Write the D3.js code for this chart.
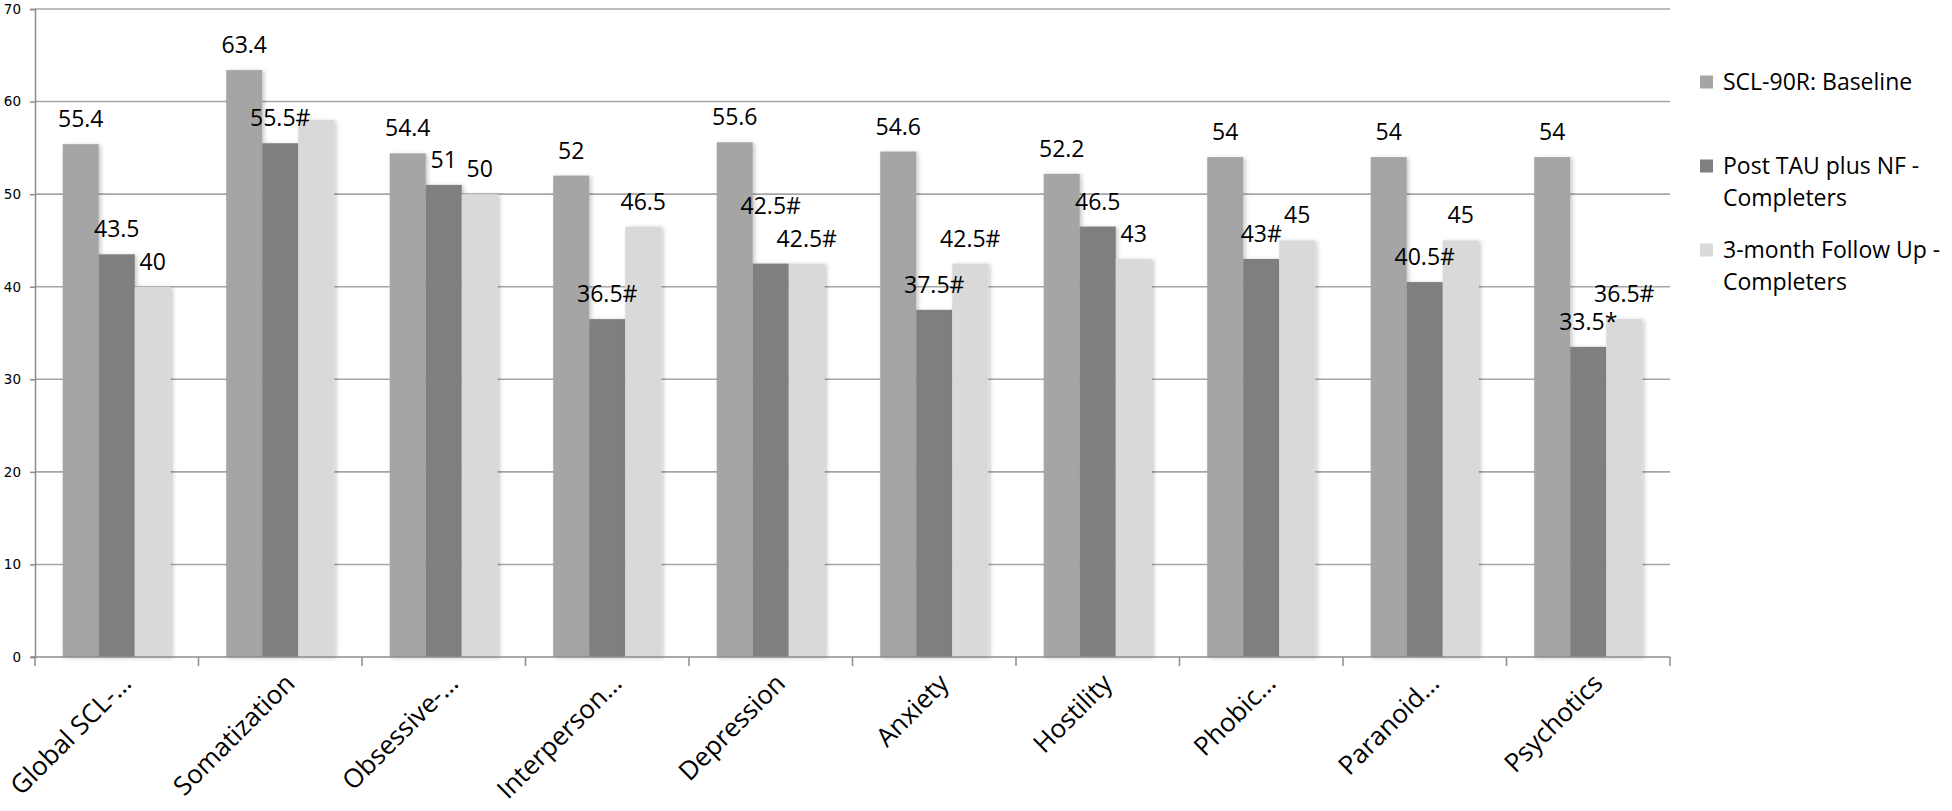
<!DOCTYPE html>
<html>
<head>
<meta charset="utf-8">
<script src="https://cdn.jsdelivr.net/npm/d3@7/dist/d3.min.js"></script>
<style>
  body { margin: 0; background: #fff; }
  svg { display: block; }
</style>
</head>
<body>
<svg id="chart" width="1952" height="811"></svg>
<script>
// categories as shown on the x axis (Excel truncated the long ones)
const categories = ["Global SCL-…", "Somatization", "Obsessive-…", "Interperson…", "Depression",
  "Anxiety", "Hostility", "Phobic…", "Paranoid…", "Psychotics"];

const seriesNames = ["SCL-90R: Baseline", "Post TAU plus NF - Completers", "3-month Follow Up - Completers"];
const legendLines = [["SCL-90R: Baseline"], ["Post TAU plus NF -", "Completers"], ["3-month Follow Up -", "Completers"]];

const baseline = [55.4, 63.4, 54.4, 52, 55.6, 54.6, 52.2, 54, 54, 54];
const postNF = [43.5, 55.5, 51, 36.5, 42.5, 37.5, 46.5, 43, 40.5, 33.5];
const followUp = [40, 58, 50, 46.5, 42.5, 42.5, 43, 45, 45, 36.5];

// data labels as printed on the chart ("" = no label)
const baselineLabels = ["55.4", "63.4", "54.4", "52", "55.6", "54.6", "52.2", "54", "54", "54"];
const postLabels = ["43.5", "55.5#", "51", "36.5#", "42.5#", "37.5#", "46.5", "43#", "40.5#", "33.5*"];
const followLabels = ["40", "", "50", "46.5", "42.5#", "42.5#", "43", "45", "45", "36.5#"];

const yTicks = [0, 10, 20, 30, 40, 50, 60, 70];

const colors = ["#a5a5a5", "#7f7f7f", "#d9d9d9"];

const seriesValues = [baseline, postNF, followUp];
const seriesLabels = [baselineLabels, postLabels, followLabels];

const svg = d3.select("#chart");

const plotLeft = 35, plotRight = 1670, plotTop = 9, plotBottom = 657;

const x = d3.scaleBand().domain(categories).range([plotLeft, plotRight]).padding(0);
const xSub = d3.scaleBand().domain(d3.range(3)).range([0, x.bandwidth()]).paddingOuter(0.77).paddingInner(0);
const y = d3.scaleLinear().domain([0, 70]).range([plotBottom, plotTop]);

// soft shadow like the Excel bar effect
const defs = svg.append("defs");
const f = defs.append("filter").attr("id", "shadow").attr("x", "-30%").attr("y", "-10%").attr("width", "160%").attr("height", "120%");
f.append("feDropShadow").attr("dx", 2).attr("dy", 1).attr("stdDeviation", 2)
  .attr("flood-color", "#000").attr("flood-opacity", 0.22);

// gridlines
svg.append("g")
  .selectAll("line")
  .data(yTicks.filter(d => d > 0))
  .join("line")
  .attr("x1", plotLeft).attr("x2", plotRight)
  .attr("y1", d => y(d)).attr("y2", d => y(d))
  .attr("stroke", "#a6a6a6")
  .attr("stroke-width", 1.6);

// y axis
const yAxis = svg.append("g")
  .attr("transform", `translate(${plotLeft},0)`)
  .call(d3.axisLeft(y).tickValues(yTicks).tickSize(5).tickPadding(9));
yAxis.select(".domain").attr("stroke", "#8c8c8c").attr("stroke-width", 1.5);
yAxis.selectAll(".tick line").attr("stroke", "#8c8c8c").attr("stroke-width", 1.5);
yAxis.selectAll("text").attr("font-family", "DejaVu Sans").attr("font-size", 13.5).attr("fill", "#000");

// bars
const rows = categories.map((c, i) => ({ cat: c, i: i }));
const groups = svg.append("g")
  .selectAll("g")
  .data(rows)
  .join("g")
  .attr("transform", d => `translate(${x(d.cat)},0)`);

groups.selectAll("rect")
  .data(d => seriesValues.map((vals, s) => ({ s: s, v: vals[d.i] })))
  .join("rect")
  .attr("x", d => xSub(d.s))
  .attr("width", xSub.bandwidth())
  .attr("y", d => y(d.v))
  .attr("height", d => y(0) - y(d.v))
  .attr("fill", d => colors[d.s])
  .attr("filter", "url(#shadow)");

// x axis
const xAxis = svg.append("g")
  .attr("transform", `translate(0,${plotBottom})`);
xAxis.append("line")
  .attr("x1", plotLeft - 4).attr("x2", plotRight)
  .attr("stroke", "#8c8c8c").attr("stroke-width", 1.5);
xAxis.selectAll(".sep")
  .data(d3.range(categories.length + 1))
  .join("line")
  .attr("class", "sep")
  .attr("x1", i => plotLeft + i * x.step()).attr("x2", i => plotLeft + i * x.step())
  .attr("y1", 0).attr("y2", 9)
  .attr("stroke", "#8c8c8c").attr("stroke-width", 1.5);
xAxis.selectAll(".cat")
  .data(categories)
  .join("text")
  .attr("class", "cat")
  .attr("text-anchor", "end")
  .attr("font-family", "Open Sans")
  .attr("font-size", 26)
  .attr("fill", "#000")
  .attr("transform", d => `translate(${x(d) + x.bandwidth() / 2 + 16},28) rotate(-45)`)
  .text(d => d);

// data labels
const fs = 23;
const labelLayer = svg.append("g");
rows.forEach(r => {
  const texts = [];
  for (let s = 0; s < 3; s++) {
    const txt = seriesLabels[s][r.i];
    if (!txt) { texts.push(null); continue; }
    const t = labelLayer.append("text")
      .attr("x", x(r.cat) + xSub(s) + xSub.bandwidth() / 2)
      .attr("y", y(seriesValues[s][r.i]) - 17)
      .attr("text-anchor", "middle")
      .attr("font-family", "Open Sans")
      .attr("font-size", fs)
      .attr("fill", "#000")
      .text(txt);
    texts.push(t);
  }
  // lift a label when its glyphs run into its right-hand neighbour
  for (let s = 1; s >= 0; s--) {
    const a = texts[s], b = texts[s + 1];
    if (!a || !b) continue;
    const ba = a.node().getBBox(), bb = b.node().getBBox();
    const ya = +a.attr("y"), yb = +b.attr("y");
    const hOverlap = ba.x + ba.width > bb.x && bb.x + bb.width > ba.x;
    const vOverlap = ya > yb - fs * 0.72 && yb > ya - fs * 0.72;
    if (hOverlap && vOverlap) {
      const shift = (ba.y + ba.height) - bb.y + 1;
      a.attr("y", ya - shift);
    }
  }
});

// legend
const legend = svg.append("g").attr("transform", "translate(1700,0)");
const legendY = [82, 166, 250];
legendLines.forEach((lines, s) => {
  const g = legend.append("g").attr("transform", `translate(0,${legendY[s]})`);
  g.append("rect").attr("x", 0).attr("y", -6.5).attr("width", 13).attr("height", 13).attr("fill", colors[s]);
  lines.forEach((ln, k) => {
    g.append("text")
      .attr("x", 23)
      .attr("y", k * 32)
      .attr("dy", "0.35em")
      .attr("font-family", "Open Sans")
      .attr("font-size", 23)
      .attr("fill", "#000")
      .text(ln);
  });
});
</script>
</body>
</html>
